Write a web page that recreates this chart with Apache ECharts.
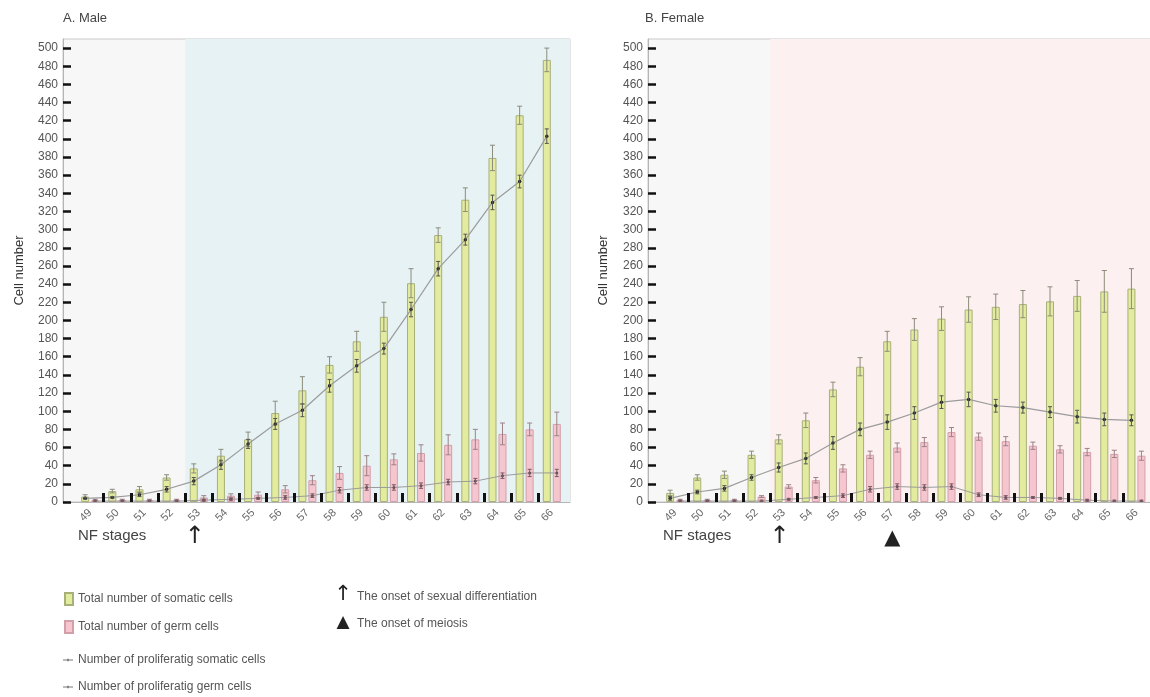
<!DOCTYPE html>
<html>
<head>
<meta charset="utf-8">
<script src="https://cdn.jsdelivr.net/npm/echarts@6/dist/echarts.min.js"></script>
<style>
html,body{margin:0;padding:0;background:#fff;}
#chart{width:1150px;height:697px;}
</style>
</head>
<body>
<div id="chart"></div>
<script>
// ---------- DATA ----------
const stages = [49,50,51,52,53,54,55,56,57,58,59,60,61,62,63,64,65,66];
const yTickValues = [0,20,40,60,80,100,120,140,160,180,200,220,240,260,280,300,320,340,360,380,400,420,440,460,480,500];

const maleSomaticTotal    = [6,12,14,27,37,51,69,98,123,151,177,204,241,294,333,379,426,487];
const maleSomaticTotalErr = [2,2,3,3,5,7,8,13,15,9,11,16,16,8,13,14,10,13];
const maleGermTotal       = [2,2,2,2,5,7,8,14,24,32,40,47,54,63,69,75,80,86];
const maleGermTotalErr    = [1,1,1,1,2,2,3,4,5,7,11,6,9,11,11,12,7,13];
const maleSomaticProlif   = [4,5,8,14,23,41,64,86,101,128,150,169,212,257,289,330,353,403];
const maleSomaticProlifErr= [1,1,2,3,4,5,5,6,7,7,7,6,8,8,6,8,7,8];
const maleGermProlif      = [1,1,1,1,2,3,4,5,7,13,16,16,18,22,23,29,32,32];
const maleGermProlifErr   = [1,1,1,1,1,1,1,2,2,3,3,3,3,3,3,3,4,4];

const femaleSomaticTotal    = [10,27,30,52,69,90,124,149,177,190,202,212,215,218,221,227,232,235];
const femaleSomaticTotalErr = [3,3,4,4,5,8,8,10,11,12,13,14,14,15,16,17,23,22];
const femaleGermTotal       = [2,2,2,6,17,24,37,52,60,66,77,72,67,62,58,55,53,51];
const femaleGermTotalErr    = [1,1,1,1,2,3,4,4,5,5,5,4,5,4,4,4,4,5];
const femaleSomaticProlif   = [4,11,15,27,38,48,65,80,88,98,110,113,106,104,99,94,91,90];
const femaleSomaticProlifErr= [2,2,3,3,5,6,7,7,8,7,7,8,7,6,6,7,7,6];
const femaleGermProlif      = [1,1,1,1,3,5,7,14,17,16,17,8,5,5,4,2,1,1];
const femaleGermProlifErr   = [1,1,1,1,1,1,2,3,3,3,3,2,2,1,1,1,1,1];

const sexDiffOnsetStage = 53;   // arrow, both panels; shading starts here
const meiosisOnsetStage = 57;   // triangle, female panel

const panelTitles = ['A. Male', 'B. Female'];
const seriesNames = ['Total number of somatic cells','Total number of germ cells','Number of proliferatig somatic cells','Number of proliferatig germ cells'];

// ---------- LAYOUT / STYLE ----------
const FONT = '"Liberation Sans", Arial, sans-serif';
const grids = [
  {left:63, top:39, width:507, height:463, xMin:48, xMax:66.67, shade:'#e7f2f5', nameGap:37},
  {left:648, top:39, width:502, height:463, xMin:48, xMax:66.5, shade:'#fcf0f1', nameGap:38}
];
const BAR_W = 8, BAR_GAP_PX = 2;
const pairOffsetPx = (BAR_W + BAR_GAP_PX) / 2;
const greenFill = '#e3eb9f', greenBorder = '#a8b07a';
const pinkFill = '#f6c6cf', pinkBorder = '#d29fab';
const lineLegendIcon = 'path://M0,4.6h10v0.8h-10z M4.2,3.8h1.6v2.4h-1.6z';

const panels = [
  {st:maleSomaticTotal, stE:maleSomaticTotalErr, gt:maleGermTotal, gtE:maleGermTotalErr,
   sp:maleSomaticProlif, spE:maleSomaticProlifErr, gp:maleGermProlif, gpE:maleGermProlifErr},
  {st:femaleSomaticTotal, stE:femaleSomaticTotalErr, gt:femaleGermTotal, gtE:femaleGermTotalErr,
   sp:femaleSomaticProlif, spE:femaleSomaticProlifErr, gp:femaleGermProlif, gpE:femaleGermProlifErr}
];

const boundaries = stages.slice(0,-1).map(s => s + 0.5);

function pairs(vals){ return stages.map((s,i)=>[s, vals[i]]); }
function triples(vals, errs){ return stages.map((s,i)=>[s, vals[i], errs[i]]); }

function errRender(capHalf, color){
  return function(params, api){
    const x = api.value(0), y = api.value(1), e = api.value(2);
    const top = api.coord([x, y + e]);
    const bot = api.coord([x, Math.max(0, y - e)]);
    const st = {stroke: color, lineWidth: 1};
    return {type:'group', children:[
      {type:'line', shape:{x1:top[0], y1:top[1], x2:bot[0], y2:bot[1]}, style:st},
      {type:'line', shape:{x1:top[0]-capHalf, y1:top[1], x2:top[0]+capHalf, y2:top[1]}, style:st},
      {type:'line', shape:{x1:bot[0]-capHalf, y1:bot[1], x2:bot[0]+capHalf, y2:bot[1]}, style:st}
    ]};
  };
}

const xAxes = [], yAxes = [], series = [], gridOpts = [];
grids.forEach((g, gi) => {
  gridOpts.push({left:g.left, top:g.top, width:g.width, height:g.height, show:true,
    backgroundColor:'#f7f7f7', borderColor:'#c9c9c9', borderWidth:1});
  const ppu = g.width / (g.xMax - g.xMin);
  const d = pairOffsetPx / ppu;
  const base = xAxes.length;
  xAxes.push({type:'value', gridIndex:gi, min:g.xMin, max:g.xMax, z:10,
    axisLine:{show:true, lineStyle:{color:'#b5b5b5', width:1}},
    axisTick:{show:true, inside:true, length:9, customValues:boundaries, lineStyle:{color:'#111', width:3}},
    axisLabel:{show:true, customValues:stages, rotate:45, fontSize:11, color:'#666', margin:9, fontFamily:FONT},
    splitLine:{show:false}});
  xAxes.push({type:'value', gridIndex:gi, min:g.xMin + d, max:g.xMax + d, show:false, splitLine:{show:false}});
  xAxes.push({type:'value', gridIndex:gi, min:g.xMin - d, max:g.xMax - d, show:false, splitLine:{show:false}});
  yAxes.push({type:'value', gridIndex:gi, min:0, max:510, z:10,
    name:'Cell number', nameLocation:'middle', nameGap:g.nameGap, nameRotate:90,
    nameTextStyle:{fontSize:13, color:'#333', fontFamily:FONT},
    axisLine:{show:true, lineStyle:{color:'#b5b5b5', width:1}},
    axisTick:{show:true, inside:true, length:8, customValues:yTickValues, lineStyle:{color:'#111', width:2.5}},
    axisLabel:{show:true, customValues:yTickValues, fontSize:12, color:'#555', margin:5, fontFamily:FONT},
    splitLine:{show:false}});
  const p = panels[gi];
  // shaded region after onset of sexual differentiation
  series.push({type:'line', xAxisIndex:base, yAxisIndex:gi, data:[], z:1, silent:true,
    markArea:{silent:true, itemStyle:{color:g.shade}, data:[[{xAxis: sexDiffOnsetStage - 0.5}, {xAxis: g.xMax}]]}});
  series.push({type:'bar', name:seriesNames[0], xAxisIndex:base, yAxisIndex:gi, data:pairs(p.st),
    barWidth:BAR_W, barGap:'25%', z:2,
    itemStyle:{color:greenFill, borderColor:greenBorder, borderWidth:1}});
  series.push({type:'bar', name:seriesNames[1], xAxisIndex:base, yAxisIndex:gi, data:pairs(p.gt),
    barWidth:BAR_W, barGap:'25%', z:2,
    itemStyle:{color:pinkFill, borderColor:pinkBorder, borderWidth:1}});
  series.push({type:'custom', xAxisIndex:base+1, yAxisIndex:gi, data:triples(p.st, p.stE), z:3, silent:true,
    encode:{x:0, y:1}, renderItem:errRender(2.5, '#8c8c7a')});
  series.push({type:'custom', xAxisIndex:base+2, yAxisIndex:gi, data:triples(p.gt, p.gtE), z:3, silent:true,
    encode:{x:0, y:1}, renderItem:errRender(2.5, '#9c8288')});
  series.push({type:'line', name:seriesNames[2], xAxisIndex:base+1, yAxisIndex:gi, data:pairs(p.sp), z:4,
    symbol:'circle', symbolSize:3.5, showSymbol:true,
    lineStyle:{color:'#9b9b9b', width:1.2}, itemStyle:{color:'#262626'}});
  series.push({type:'custom', xAxisIndex:base+1, yAxisIndex:gi, data:triples(p.sp, p.spE), z:5, silent:true,
    encode:{x:0, y:1}, renderItem:errRender(2, '#555')});
  series.push({type:'line', name:seriesNames[3], xAxisIndex:base+2, yAxisIndex:gi, data:pairs(p.gp), z:4,
    symbol:'circle', symbolSize:3, showSymbol:true,
    lineStyle:{color:'#9b9b9b', width:1}, itemStyle:{color:'#6b4b55'}});
  series.push({type:'custom', xAxisIndex:base+2, yAxisIndex:gi, data:triples(p.gp, p.gpE), z:5, silent:true,
    encode:{x:0, y:1}, renderItem:errRender(2, '#7a5a62')});
});

const option = {
  animation:false,
  backgroundColor:'#ffffff',
  textStyle:{fontFamily:FONT},
  title:[
    {text:panelTitles[0], left:58, top:7, textStyle:{fontSize:13, fontWeight:'normal', color:'#444', fontFamily:FONT}},
    {text:panelTitles[1], left:640, top:7, textStyle:{fontSize:13, fontWeight:'normal', color:'#444', fontFamily:FONT}}
  ],
  grid:gridOpts,
  xAxis:xAxes,
  yAxis:yAxes,
  legend:[
    {data:[seriesNames[0], seriesNames[1]], orient:'vertical', left:64, top:592, padding:0, itemWidth:8, itemHeight:12,
     itemGap:14, icon:'rect', selectedMode:false, textStyle:{fontSize:12, color:'#555', fontFamily:FONT}},
    {data:[{name:seriesNames[2], icon:lineLegendIcon}, {name:seriesNames[3], icon:lineLegendIcon}],
     orient:'vertical', left:63, top:654, padding:0, itemWidth:10, itemHeight:10,
     itemGap:15, selectedMode:false, itemStyle:{color:'#777'}, lineStyle:{color:'#999'},
     textStyle:{fontSize:12, color:'#555', fontFamily:FONT}}
  ],
  series:series
};

const chart = echarts.init(document.getElementById('chart'), null, {renderer:'canvas'});
chart.setOption(option);

// annotations below the axes, positioned through the axis scales
const graphics = [];
grids.forEach((g, gi) => {
  const a = chart.convertToPixel({xAxisIndex: gi*3, yAxisIndex: gi}, [sexDiffOnsetStage, 0]);
  graphics.push({type:'text', left: g.left + 15, top: a[1] + 26,
    style:{text:'NF stages', fontSize:15, fill:'#444', fontFamily:FONT}});
  graphics.push({type:'text', x:a[0] - 4, y:a[1] + 23,
    style:{text:'↑', fontSize:24, fill:'#222', align:'center', fontFamily:'"DejaVu Sans"'}});
});
const t = chart.convertToPixel({xAxisIndex: 3, yAxisIndex: 1}, [meiosisOnsetStage, 0]);
graphics.push({type:'text', x:t[0], y:t[1] + 26,
  style:{text:'▲', fontSize:21, fill:'#222', align:'center', fontFamily:'"DejaVu Sans"'}});
// legend for the annotation symbols
graphics.push({type:'text', x:343, y:584, style:{text:'↑', fontSize:21, fill:'#222', align:'center', fontFamily:'"DejaVu Sans"'}});
graphics.push({type:'text', left:357, top:591, style:{text:'The onset of sexual differentiation', fontSize:12, fill:'#555', fontFamily:FONT}});
graphics.push({type:'text', x:343, y:614, style:{text:'▲', fontSize:17, fill:'#222', align:'center', fontFamily:'"DejaVu Sans"'}});
graphics.push({type:'text', left:357, top:618, style:{text:'The onset of meiosis', fontSize:12, fill:'#555', fontFamily:FONT}});
chart.setOption({graphic:graphics});
</script>
</body>
</html>
